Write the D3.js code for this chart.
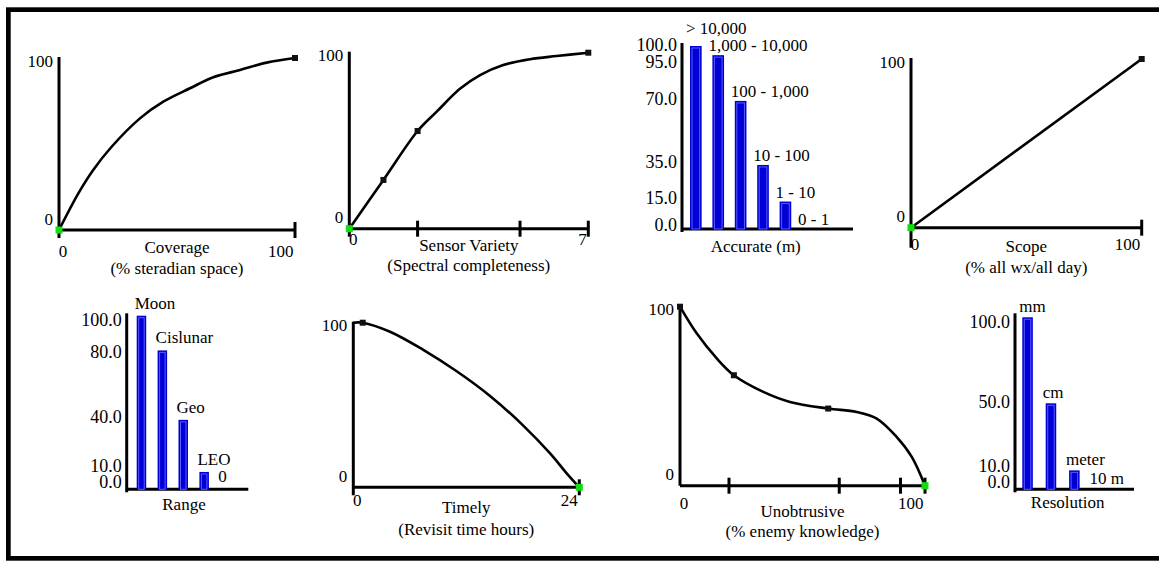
<!DOCTYPE html>
<html><head><meta charset="utf-8">
<script src="https://cdn.jsdelivr.net/npm/d3@7"></script>
<style>
html,body{margin:0;padding:0;background:#fff;}
svg text{font-family:"Liberation Serif","Times New Roman",serif;font-size:17px;fill:#000;}
</style>
</head><body>
<svg id="chart" width="1159" height="561"></svg>
<script>
// ---------------- DATA ----------------
// Coverage (% steradian space) vs value
const coverageX = [0, 8.2, 14.5, 22.3, 34.3, 44.2, 55.5, 65.4, 76.7, 88, 100];
const coverageY = [0, 21.3, 34.9, 48.4, 64.9, 74.6, 82.4, 88.8, 93.0, 97.3, 100];
const coverageMarks = [100];
const coverageTicks = [100];

// Sensor Variety (spectral completeness, 0..7)
const sensorX = [0, 1, 2, 2.56, 3.24, 3.83, 4.51, 5.29, 6.07, 7];
const sensorY = [0, 27.7, 55.5, 66.5, 79.5, 87.3, 93.0, 96.3, 98.1, 100];
const sensorMarks = [1, 2, 7];
const sensorTicks = [2, 5, 7];

// Scope (% all wx / all day)
const scopeX = [0, 100];
const scopeY = [0, 100];
const scopeMarks = [100];
const scopeTicks = [100];

// Timely (revisit time hours)
const timelyX = [0, 1, 3.9, 7.43, 10.98, 14.52, 18.05, 20.9, 22.66, 24];
const timelyY = [100, 100, 94.5, 83.5, 70.5, 55.5, 37.5, 20.6, 8.5, 0];
const timelyMarks = [1];
const timelyTicks = [24];

// Unobtrusive (% enemy knowledge)
const unobX = [0, 6.8, 15.0, 22.0, 34.0, 44.9, 60.5, 72.1, 80.3, 88.4, 94.6, 100];
const unobY = [100, 85.1, 71.1, 61.7, 52.4, 46.8, 43.1, 41.2, 37.5, 27.3, 16.1, 0];
const unobMarks = [0, 22.0, 60.5];
const unobTicks = [20, 65, 90, 100];

// Accurate (m) bar chart
const accCats = ["> 10,000", "1,000 - 10,000", "100 - 1,000", "10 - 100", "1 - 10", "0 - 1"];
const accVals = [100, 95, 70, 35, 15, 0];
const accTicks = [100, 95, 70, 35, 15, 0];

// Range bar chart
const rangeCats = ["Moon", "Cislunar", "Geo", "LEO", "0"];
const rangeVals = [100, 80, 40, 10, 0];
const rangeTicks = [100, 80, 40, 10, 0];

// Resolution bar chart
const resCats = ["mm", "cm", "meter", "10 m"];
const resVals = [100, 50, 11, 0];
const resTicks = [100, 50, 10, 0];

// ---------------- DRAWING ----------------
const svg = d3.select("#chart");

svg.append("rect")
  .attr("x", 8.35).attr("y", 9.65).attr("width", 1200).attr("height", 548.7)
  .attr("fill", "none").attr("stroke", "#000").attr("stroke-width", 4.7);

function line(g, x1, y1, x2, y2, w) {
  g.append("line").attr("x1", x1).attr("y1", y1).attr("x2", x2).attr("y2", y2)
    .attr("stroke", "#000").attr("stroke-width", w || 3);
}

function linePanel(c) {
  const g = svg.append("g");
  const x = d3.scaleLinear().domain(c.xDomain).range([c.x0, c.x1]);
  const y = d3.scaleLinear().domain([0, 100]).range([c.base, c.top]);
  const pts = c.xs.map((v, i) => [v, c.ys[i]]);
  // axes
  line(g, x(c.xDomain[0]), c.top - 1, x(c.xDomain[0]), c.base + c.yExt);
  line(g, x(c.xDomain[0]), c.base, x(c.xDomain[1]), c.base);
  c.ticks.forEach(t => line(g, x(t), c.base - 8, x(t), c.base + 8));
  // curve
  g.append("path").datum(pts)
    .attr("d", d3.line().x(d => x(d[0])).y(d => y(d[1])).curve(d3.curveCatmullRom.alpha(0.5)))
    .attr("fill", "none").attr("stroke", "#000").attr("stroke-width", 2.6)
    .attr("stroke-linejoin", "round");
  // black knot markers
  c.marks.forEach(m => {
    const i = c.xs.indexOf(m);
    g.append("rect").attr("x", x(m) - 3).attr("y", y(c.ys[i]) - 3)
      .attr("width", 6).attr("height", 6).attr("fill", "#111");
  });
  // green marker at zero-valued point
  const zi = c.ys.indexOf(0);
  g.append("rect").attr("x", x(c.xs[zi]) - 3.5).attr("y", y(0) - 3.5)
    .attr("width", 7).attr("height", 7).attr("fill", "#11dd11");
  // y labels
  g.append("text").attr("x", x(c.xDomain[0]) - 6).attr("y", y(100) + 3)
    .attr("text-anchor", "end").attr("dominant-baseline", "central").text("100");
  g.append("text").attr("x", x(c.xDomain[0]) - 6).attr("y", c.base - 11)
    .attr("text-anchor", "end").attr("dominant-baseline", "central").text("0");
  // x labels
  g.append("text").attr("x", x(c.xDomain[0]) + 4).attr("y", c.base + c.xLabDy)
    .attr("text-anchor", "middle").attr("dominant-baseline", "central").text(String(c.xDomain[0]));
  g.append("text").attr("x", x(c.xDomain[1]) - 1.5).attr("y", c.base + c.xLabDy)
    .attr("text-anchor", "end").attr("dominant-baseline", "central").text(String(c.xDomain[1]));
  // titles
  const mid = (c.x0 + c.x1) / 2;
  g.append("text").attr("x", mid).attr("y", c.base + c.t1).attr("text-anchor", "middle").text(c.title);
  g.append("text").attr("x", mid).attr("y", c.base + c.t2).attr("text-anchor", "middle").text(c.sub);
}

function barPanel(c) {
  const g = svg.append("g");
  const n = c.cats.length;
  const x = d3.scaleBand().domain(c.cats)
    .range([c.barStart, c.barStart + c.step * (n - c.pad)])
    .paddingInner(c.pad).paddingOuter(0);
  const y = d3.scaleLinear().domain([0, 100]).range([c.base, c.y100]);
  // axes
  line(g, c.axisX, c.axisTop, c.axisX, c.base + 3);
  line(g, c.axisX, c.base, c.xEnd, c.base);
  // bars
  c.vals.forEach((v, i) => {
    if (v <= 0) return;
    const bx = x(c.cats[i]), bw = x.bandwidth(), by = y(v), bh = c.base - y(v);
    g.append("rect").attr("x", bx).attr("y", by).attr("width", bw).attr("height", bh)
      .attr("fill", "#0000d4");
    g.append("rect").attr("x", bx + 2).attr("y", by + 2).attr("width", bw - 4).attr("height", bh - 2)
      .attr("fill", "none").attr("stroke", "#5a5aff").attr("stroke-width", 1);
  });
  // y tick labels on compressed scale with collision avoidance
  const ly = d3.scaleLinear().domain([0, 100]).range(c.labRange);
  const sorted = c.ticks.slice().sort((a, b) => b - a);
  let prev = -1e9;
  sorted.forEach(t => {
    let yy = Math.max(ly(t), prev + 16.5);
    prev = yy;
    g.append("text").attr("x", c.axisX - 5).attr("y", yy)
      .attr("text-anchor", "end").attr("dominant-baseline", "central")
      .style("font-size", "18px").text(d3.format(".1f")(t));
  });
  // category labels
  const base = c.vals.map(v => y(v) + c.labDy);
  for (let i = n - 2; i >= 0; i--) {
    if (base[i] > base[i + 1] - 17) base[i] = base[i + 1] - 17;
  }
  c.cats.forEach((k, i) => {
    g.append("text").attr("x", x(k) + c.labDx).attr("y", base[i]).text(k);
  });
  g.append("text").attr("x", c.titleX).attr("y", c.base + c.titleDy)
    .attr("text-anchor", "middle").text(c.title);
}

linePanel({xs: coverageX, ys: coverageY, marks: coverageMarks, ticks: coverageTicks,
  xDomain: [0, 100], x0: 59, x1: 295, base: 230, top: 58, yExt: 8, xLabDy: 21,
  t1: 23, t2: 44, title: "Coverage", sub: "(% steradian space)"});

linePanel({xs: sensorX, ys: sensorY, marks: sensorMarks, ticks: sensorTicks,
  xDomain: [0, 7], x0: 349.3, x1: 588.3, base: 228.7, top: 52.7, yExt: 8, xLabDy: 11,
  t1: 22, t2: 42, title: "Sensor Variety", sub: "(Spectral completeness)"});

linePanel({xs: scopeX, ys: scopeY, marks: scopeMarks, ticks: scopeTicks,
  xDomain: [0, 100], x0: 911, x1: 1141.7, base: 227.7, top: 59, yExt: 20, xLabDy: 17,
  t1: 24.6, t2: 45.3, title: "Scope", sub: "(% all wx/all day)"});

linePanel({xs: timelyX, ys: timelyY, marks: timelyMarks, ticks: timelyTicks,
  xDomain: [0, 24], x0: 353.3, x1: 579.3, base: 487.3, top: 322.7, yExt: 8, xLabDy: 13.4,
  t1: 26, t2: 47.7, title: "Timely", sub: "(Revisit time hours)"});

linePanel({xs: unobX, ys: unobY, marks: unobMarks, ticks: unobTicks,
  xDomain: [0, 100], x0: 680, x1: 925, base: 485.7, top: 306.7, yExt: 0, xLabDy: 17.6,
  t1: 31.6, t2: 51, title: "Unobtrusive", sub: "(% enemy knowledge)"});

barPanel({cats: accCats, vals: accVals, ticks: accTicks,
  axisX: 682, axisTop: 43, base: 229, y100: 46, xEnd: 853,
  barStart: 690, step: 22.4, pad: 0.48, labRange: [225, 45], labDx: -4, labDy: -4,
  titleX: 755.7, titleDy: 22.7, title: "Accurate (m)"});

barPanel({cats: rangeCats, vals: rangeVals, ticks: rangeTicks,
  axisX: 126.7, axisTop: 313.3, base: 489.3, y100: 315.7, xEnd: 248.3,
  barStart: 136.7, step: 20.9, pad: 0.545, labRange: [481.7, 320], labDx: -2, labDy: -7,
  titleX: 184, titleDy: 20.7, title: "Range"});

barPanel({cats: resCats, vals: resVals, ticks: resTicks,
  axisX: 1015, axisTop: 313.3, base: 489.3, y100: 317.3, xEnd: 1134,
  barStart: 1022.3, step: 23.4, pad: 0.55, labRange: [481.7, 322.3], labDx: -3, labDy: -5,
  titleX: 1067.7, titleDy: 19, title: "Resolution"});
</script>
</body></html>
